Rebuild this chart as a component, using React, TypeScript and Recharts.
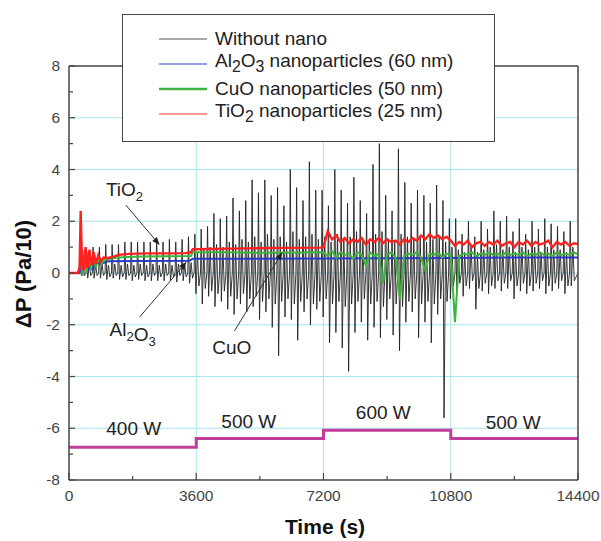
import React from 'react'
import {
  LineChart,
  Line,
  XAxis,
  YAxis,
  CartesianGrid,
  Legend,
  ReferenceLine,
  ReferenceDot,
} from 'recharts'

const FONT = '"Liberation Sans", Arial, sans-serif'

// axis ticks
const xTicks = [0, 1800, 3600, 5400, 7200, 9000, 10800, 12600, 14400]
const yTicks = [-8, -7, -6, -5, -4, -3, -2, -1, 0, 1, 2, 3, 4, 5, 6, 7, 8]
const rightTicks = [1, 2, 3, 4, 5, 6, 7, 8, 9]

// without nano: each cycle has a big spike (up, down) and a smaller swing
const blackStart = 300
const blackPeriod = 180
const blackPeaks = [
  1.2, 0.8, 1.0, 1.0, 1.1, 1.1, 1.1, 1.2, 1.2, 1.2, 1.2, 1.2, 1.3, 1.2, 1.3, 1.2, 1.3, 1.4,
  1.5, 1.7, 1.8, 2.3, 2.1, 2.2, 2.9, 2.4, 2.8, 3.6, 3.1, 3.6, 3.0, 3.3, 2.6, 4.0, 3.3, 2.8, 4.3, 3.2,
  3.2, 2.6, 4.0, 3.2, 2.7, 3.7, 2.8, 2.3, 4.2, 5.0, 3.0, 2.4, 4.8, 3.5, 2.7, 3.2, 3.0, 2.7, 3.4, 2.8,
  2.1, 2.1, 1.5, 2.0, 1.4, 2.0, 1.7, 2.4, 2.0, 2.2, 1.6, 2.1, 1.5, 2.0, 1.7, 2.1, 1.9, 1.8, 1.6, 2.0,
]
const blackTroughs = [
  -0.1, -0.2, -0.2, -0.2, -0.25, -0.2, -0.25, -0.25, -0.3, -0.25, -0.3, -0.3, -0.3, -0.3, -0.3, -0.35, -0.3, -0.4,
  -0.8, -1.2, -0.9, -1.3, -1.1, -1.4, -1.6, -1.2, -1.5, -1.3, -1.8, -1.5, -2.1, -3.2, -1.7, -1.8, -2.6, -1.5, -2.0, -1.4,
  -1.7, -2.7, -2.3, -2.9, -3.8, -2.3, -1.9, -2.6, -2.1, -2.5, -1.8, -2.4, -3.0, -1.9, -1.5, -2.5, -1.9, -2.7, -1.6, -5.6,
  -1.0, -0.7, -0.9, -0.6, -1.4, -0.7, -0.8, -0.6, -0.7, -0.6, -1.0, -0.7, -0.8, -0.7, -0.6, -0.8, -0.7, -0.6, -0.8, -0.5,
]
const blackMinorPeaks = [
  0.4, 0.3, 0.3, 0.35, 0.3, 0.35, 0.3, 0.35, 0.3, 0.35, 0.3, 0.35, 0.3, 0.35, 0.3, 0.35, 0.3, 0.4,
  0.8, 0.9, 1.0, 1.1, 1.0, 1.2, 1.1, 1.3, 1.2, 1.4, 1.2, 1.5, 1.3, 1.4, 1.2, 1.6, 1.3, 1.4, 1.5, 1.3,
  1.4, 1.2, 1.5, 1.3, 1.4, 1.6, 1.3, 1.2, 1.5, 1.6, 1.3, 1.2, 1.5, 1.4, 1.3, 1.4, 1.2, 1.3, 1.4, 1.2,
  1.0, 0.9, 0.8, 1.0, 0.8, 0.9, 1.0, 1.1, 0.9, 1.0, 0.8, 1.0, 0.9, 1.0, 0.8, 1.0, 0.9, 0.9, 0.8, 1.0,
]
const blackMinorTroughs = [
  -0.1, -0.1, -0.1, -0.1, -0.15, -0.1, -0.15, -0.1, -0.15, -0.1, -0.15, -0.1, -0.15, -0.1, -0.15, -0.1, -0.15, -0.2,
  -0.5, -0.6, -0.7, -0.8, -0.7, -0.9, -1.0, -0.8, -1.0, -0.9, -1.1, -1.0, -1.2, -1.1, -1.0, -1.2, -1.1, -1.0, -1.2, -1.1,
  -1.0, -1.2, -1.1, -1.3, -1.2, -1.1, -1.0, -1.2, -1.1, -1.3, -1.0, -1.2, -1.3, -1.1, -1.0, -1.2, -1.1, -1.2, -1.0, -1.1,
  -0.5, -0.4, -0.5, -0.3, -0.6, -0.4, -0.5, -0.3, -0.4, -0.3, -0.5, -0.4, -0.5, -0.4, -0.3, -0.5, -0.4, -0.3, -0.5, -0.3,
]

// Al2O3 (60 nm)
const al2o3Time = [0, 300, 340, 390, 450, 520, 600, 680, 780, 900, 1100, 2000, 3400, 3500, 5000, 7200, 9000, 10800, 12600, 14400]
const al2o3Value = [0, 0, 0.4, 0.0, 0.5, 0.05, 0.45, 0.15, 0.4, 0.35, 0.45, 0.46, 0.47, 0.55, 0.55, 0.56, 0.57, 0.58, 0.6, 0.6]

// CuO (50 nm), smooth part then sampled every 120 s from 7200 s
const cuoTime = [0, 250, 300, 335, 380, 440, 500, 560, 620, 690, 760, 840, 920, 1000, 1150, 1400, 2000, 2800, 3450, 3500, 4500, 5500, 6500, 7100]
const cuoValue = [0, 0, 0.2, 1.2, -0.1, 0.9, 0.0, 0.8, 0.1, 0.7, 0.2, 0.6, 0.35, 0.5, 0.55, 0.6, 0.64, 0.65, 0.66, 0.8, 0.8, 0.78, 0.78, 0.8]
const cuoLate = [
  0.8, 0.65, 0.85, 0.6, 0.8, 0.7, 0.75, 0.55, 0.8, 0.7, 0.3, 0.8, 0.65, 0.75, -0.4, 0.7, 0.8, 0.6, -1.0, 0.65,
  0.75, 0.7, 0.8, 0.6, 0.1, 0.75, 0.7, 0.8, 0.6, 0.75,
  0.7, -1.9, 0.65, 0.75, 0.7, 0.8, 0.65, 0.75, 0.7, 0.8, 0.7, 0.75, 0.65, 0.8, 0.7, 0.75, 0.7, 0.8, 0.65, 0.75,
  0.7, 0.8, 0.7, 0.75, 0.65, 0.8, 0.7, 0.75, 0.7, 0.8, 0.72,
]

// TiO2 (25 nm)
const tio2Time = [0, 250, 300, 330, 370, 420, 470, 520, 580, 640, 700, 760, 830, 900, 980, 1100, 1250, 1400, 1700, 2200, 2800, 3300, 3450, 3500, 4000, 5000, 6000, 7100]
const tio2Value = [0, 0, 0.2, 2.4, 0.3, 0.1, 1.0, 0.2, 0.9, 0.3, 0.8, 0.35, 0.7, 0.45, 0.6, 0.58, 0.62, 0.7, 0.74, 0.76, 0.76, 0.77, 0.8, 0.92, 0.93, 0.95, 0.97, 0.98]
const tio2Late = [
  1.0, 1.62, 1.3, 1.45, 1.2, 1.35, 1.15, 1.3, 1.2, 1.35, 1.1, 1.3, 1.2, 1.35, 1.15, 1.3, 1.2, 1.25, 1.1, 1.3,
  1.2, 1.35, 1.25, 1.45, 1.3, 1.5, 1.35, 1.45, 1.3, 1.4,
  1.25, 1.05, 1.2, 1.1, 1.25, 1.0, 1.15, 1.2, 1.05, 1.2, 1.1, 1.25, 1.05, 1.15, 1.2, 1.0, 1.2, 1.1, 1.25, 1.05,
  1.2, 1.1, 1.15, 1.25, 1.0, 1.2, 1.1, 1.2, 1.05, 1.15, 1.12,
]
const lateStart = 7200
const lateStep = 120

// heater power steps
const powerTime = [0, 3600, 7200, 10800, 14400]
const powerValue = [-6.73, -6.4, -6.08, -6.4, -6.4]
const powerLabels = ['400 W', '500 W', '600 W', '500 W']

const blackData: { t: number; v: number }[] = [{ t: 0, v: 0 }]
blackPeaks.forEach((p, i) => {
  const t0 = blackStart + i * blackPeriod
  blackData.push(
    { t: t0, v: 0 },
    { t: t0 + 20, v: p },
    { t: t0 + 50, v: blackTroughs[i] },
    { t: t0 + 95, v: blackMinorPeaks[i] },
    { t: t0 + 135, v: blackMinorTroughs[i] },
  )
})
blackData.push({ t: 14400, v: 0 })

const pairs = (ts: number[], vs: number[]) => ts.map((t, i) => ({ t, v: vs[i] }))
const late = (vs: number[]) => vs.map((v, i) => ({ t: lateStart + i * lateStep, v }))

const al2o3Data = pairs(al2o3Time, al2o3Value)
const cuoData = [...pairs(cuoTime, cuoValue), ...late(cuoLate)]
const tio2Data = [...pairs(tio2Time, tio2Value), ...late(tio2Late)]
const powerData = pairs(powerTime, powerValue)

const AXIS = '#444'

const YTick = (props: any) => {
  const { x, y, payload } = props
  const v = payload.value
  const major = v % 2 === 0
  const ax = x + 9
  return (
    <g>
      <line x1={ax} y1={y} x2={ax + (major ? 6 : 4)} y2={y} stroke={AXIS} strokeWidth={1.2} />
      {major && (
        <text x={x} y={y} dy={5} textAnchor="end" fill="#444" fontSize={15.5} fontFamily={FONT}>
          {v}
        </text>
      )}
    </g>
  )
}

const XTick = (props: any) => {
  const { x, y, payload } = props
  const v = payload.value
  const major = v % 3600 === 0
  return (
    <g>
      <line x1={x} y1={y} x2={x} y2={y - (major ? 7 : 4)} stroke={AXIS} strokeWidth={1.2} />
      {major && (
        <text x={x} y={y + 21} textAnchor="middle" fill="#444" fontSize={15.5} fontFamily={FONT}>
          {v}
        </text>
      )}
    </g>
  )
}

const TopTick = (props: any) => {
  const { x, y, payload } = props
  const major = payload.value % 3600 === 0
  return <line x1={x} y1={y} x2={x} y2={y + (major ? 7 : 4)} stroke={AXIS} strokeWidth={1.2} />
}

const RightTick = (props: any) => {
  const { x, y } = props
  return <line x1={x} y1={y} x2={x - 5} y2={y} stroke={AXIS} strokeWidth={1.2} />
}

const Arrow = (props: any) => {
  const { x1, y1, x2, y2 } = props
  const a = Math.atan2(y2 - y1, x2 - x1)
  const l = 8
  const w = 3
  const bx = x2 - l * Math.cos(a)
  const by = y2 - l * Math.sin(a)
  const px = -Math.sin(a) * w
  const py = Math.cos(a) * w
  return (
    <g>
      <line x1={x1} y1={y1} x2={bx} y2={by} stroke="#333" strokeWidth={1} />
      <polygon points={`${x2},${y2} ${bx + px},${by + py} ${bx - px},${by - py}`} fill="#222" />
    </g>
  )
}

const label = (main: React.ReactNode) => (p: any) => (
  <text x={p.cx} y={p.cy} dy={6} textAnchor="middle" fill="#222" fontSize={19} fontFamily={FONT}>
    {main}
  </text>
)

const sub = (s: string) => (
  <>
    <tspan dy={5} fontSize={13}>{s}</tspan>
    <tspan dy={-5}></tspan>
  </>
)

const legendItems = [
  { key: 'none', color: '#555', width: 1, label: <>Without nano</> },
  { key: 'al', color: '#3040c0', width: 1.2, label: <>Al<sub>2</sub>O<sub>3</sub> nanoparticles (60 nm)</> },
  { key: 'cuo', color: '#40b040', width: 2.5, label: <>CuO nanoparticles (50 nm)</> },
  { key: 'ti', color: '#ff3030', width: 1.2, label: <>TiO<sub>2</sub> nanoparticles (25 nm)</> },
]

const renderLegend = () => (
  <div
    style={{
      width: 373,
      height: 128,
      boxSizing: 'border-box',
      border: '1.5px solid #444',
      background: '#fff',
      paddingTop: 11,
      fontFamily: FONT,
      fontSize: 19,
      color: '#222',
    }}
  >
    {legendItems.map((item) => (
      <div key={item.key} style={{ display: 'flex', alignItems: 'center', height: 25, lineHeight: '19px' }}>
        <svg width={48} height={6} style={{ marginLeft: 36, marginRight: 8, flex: 'none' }}>
          <line x1={0} y1={3} x2={48} y2={3} stroke={item.color} strokeWidth={item.width} />
        </svg>
        <span style={{ whiteSpace: 'nowrap' }}>{item.label}</span>
      </div>
    ))}
  </div>
)

export default function App() {
  return (
    <div style={{ position: 'absolute', left: 0, top: 0, width: 601, height: 541, background: '#fff' }}>
      <LineChart width={601} height={541} margin={{ top: 56, right: 13, bottom: 31, left: 19 }}>
        <CartesianGrid
          stroke="#a6e6ec"
          strokeWidth={1}
          horizontalValues={[-6, -4, -2, 0, 2, 4, 6]}
          verticalValues={[3600, 7200, 10800]}
        />
        <XAxis
          dataKey="t"
          type="number"
          domain={[0, 14400]}
          ticks={xTicks}
          height={30}
          tickSize={0}
          tickMargin={0}
          tick={<XTick />}
          axisLine={{ stroke: AXIS, strokeWidth: 1.5 }}
          tickLine={false}
          allowDataOverflow
          label={{
            content: () => (
              <text x={325} y={534} textAnchor="middle" fill="#111" fontSize={21} fontWeight="bold" fontFamily={FONT}>
                Time (s)
              </text>
            ),
          }}
        />
        <XAxis
          xAxisId="top"
          orientation="top"
          type="number"
          domain={[0, 14400]}
          ticks={xTicks}
          height={10}
          tickSize={0}
          tickMargin={0}
          tick={<TopTick />}
          axisLine={{ stroke: AXIS, strokeWidth: 1.5 }}
          tickLine={false}
        />
        <YAxis
          type="number"
          domain={[-8, 8]}
          ticks={yTicks}
          width={50}
          tickSize={0}
          tickMargin={9}
          tick={<YTick />}
          axisLine={{ stroke: AXIS, strokeWidth: 1.5 }}
          tickLine={false}
          allowDataOverflow
          interval={0}
          label={{
            content: () => (
              <text
                x={23}
                y={274}
                transform="rotate(-90 23 274)"
                textAnchor="middle"
                dominantBaseline="central"
                fill="#111"
                fontSize={22}
                fontWeight="bold"
                fontFamily={FONT}
              >
                ΔP (Pa/10)
              </text>
            ),
          }}
        />
        <YAxis
          yAxisId="right"
          orientation="right"
          type="number"
          domain={[0, 10]}
          ticks={rightTicks}
          width={10}
          tickSize={0}
          tickMargin={0}
          tick={<RightTick />}
          axisLine={{ stroke: AXIS, strokeWidth: 1.5 }}
          tickLine={false}
          interval={0}
        />

        <Line data={blackData} dataKey="v" stroke="#222" strokeWidth={0.9} dot={false} isAnimationActive={false} />
        <Line data={al2o3Data} dataKey="v" stroke="#2a3ac4" strokeWidth={2} dot={false} isAnimationActive={false} />
        <Line data={cuoData} dataKey="v" stroke="#3cb43c" strokeWidth={2} dot={false} isAnimationActive={false} />
        <Line data={tio2Data} dataKey="v" stroke="#ff2020" strokeWidth={2.4} dot={false} isAnimationActive={false} />
        <Line
          data={powerData}
          dataKey="v"
          type="stepAfter"
          stroke="#c23c9c"
          strokeWidth={3}
          dot={false}
          isAnimationActive={false}
        />

        <ReferenceLine segment={[{ x: 1605, y: 2.63 }, { x: 2566, y: 1.08 }]} shape={<Arrow />} />
        <ReferenceLine segment={[{ x: 2000, y: -1.7 }, { x: 3326, y: 0.43 }]} shape={<Arrow />} />
        <ReferenceLine segment={[{ x: 4682, y: -2.24 }, { x: 6039, y: 0.81 }]} shape={<Arrow />} />

        <ReferenceDot x={1570} y={3.2} r={0} shape={label(<>TiO{sub('2')}</>)} />
        <ReferenceDot x={1800} y={-2.2} r={0} shape={label(<>Al{sub('2')}O{sub('3')}</>)} />
        <ReferenceDot x={4606} y={-2.9} r={0} shape={label(<>CuO</>)} />

        <ReferenceDot x={1832} y={-6.03} r={0} shape={label(powerLabels[0])} />
        <ReferenceDot x={5086} y={-5.76} r={0} shape={label(powerLabels[1])} />
        <ReferenceDot x={8892} y={-5.41} r={0} shape={label(powerLabels[2])} />
        <ReferenceDot x={12567} y={-5.8} r={0} shape={label(powerLabels[3])} />

        <Legend
          layout="horizontal"
          verticalAlign="middle"
          align="center"
          content={renderLegend}
          wrapperStyle={{ left: 122, top: 14, width: 373, height: 128 }}
        />
      </LineChart>
    </div>
  )
}
